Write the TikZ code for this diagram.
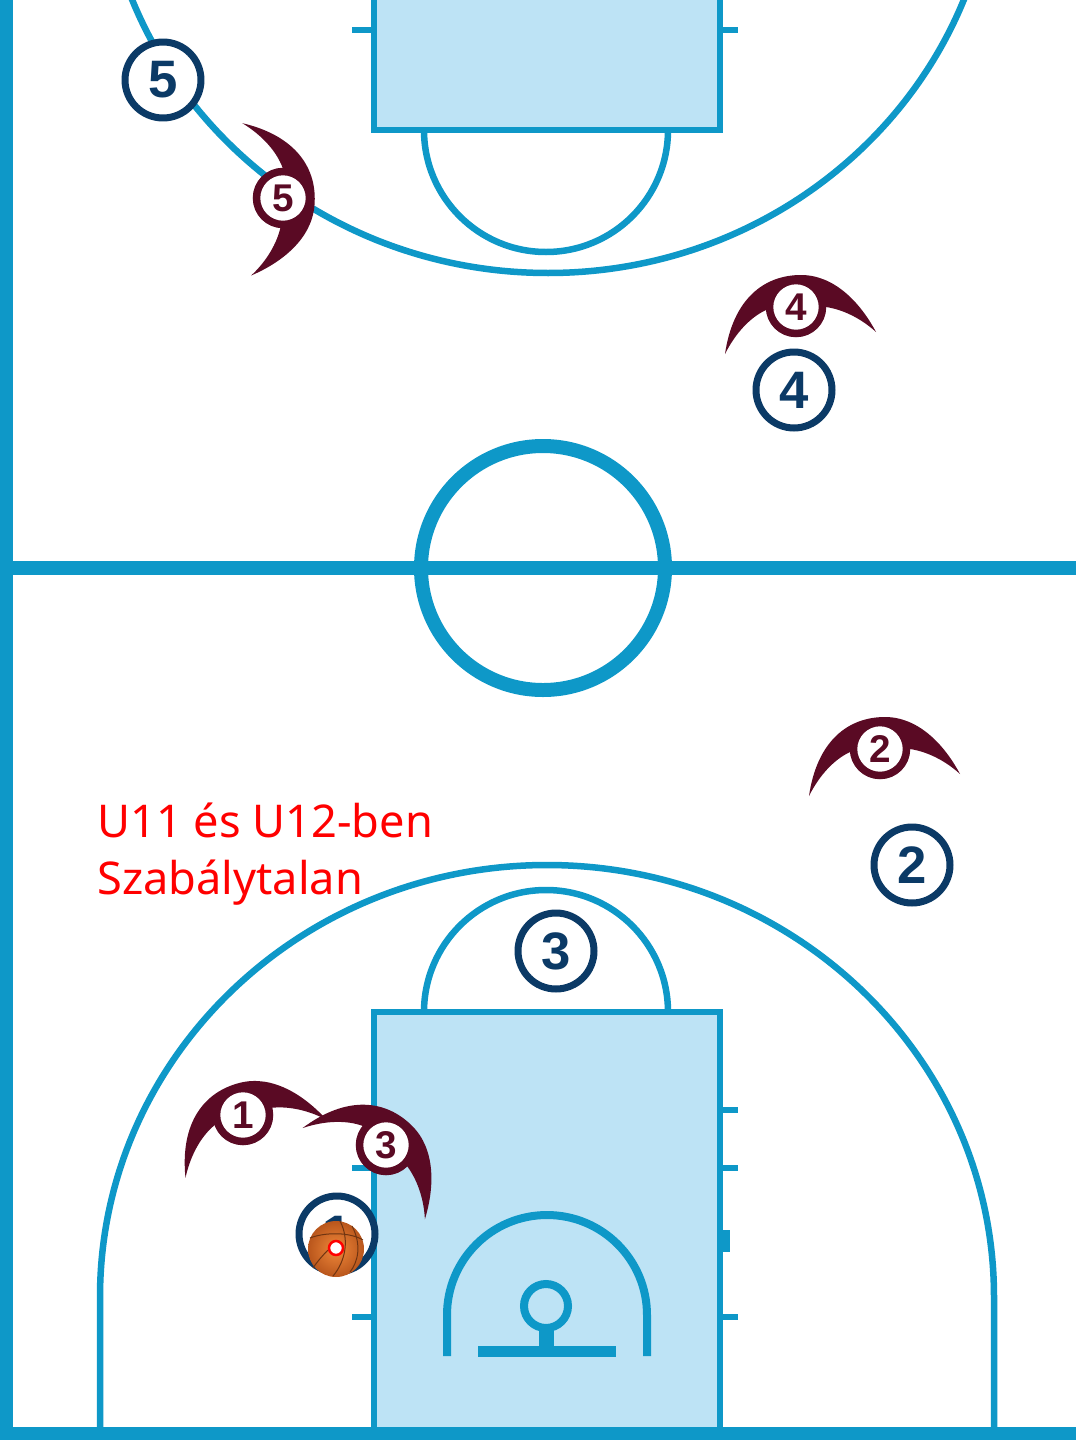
\documentclass[tikz,border=0pt]{standalone}
\usepackage{fontspec}
\setmainfont{Noto Sans}
\newfontfamily\numfont[Scale=1]{Liberation Sans}
\definecolor{courtblue}{HTML}{0E98C8}
\definecolor{keyblue}{HTML}{BDE3F5}
\definecolor{navyring}{HTML}{0B3A66}
\definecolor{maroonring}{HTML}{5A0A24}
\definecolor{ballorange}{HTML}{F0883A}
\definecolor{ballrim}{HTML}{B9561C}
\tikzset{
  courtline/.style={draw=courtblue,line width=0.13cm},
  thickline/.style={draw=courtblue,line width=0.28cm},
  attacker/.style={circle,draw=navyring,fill=white,line width=0.14cm,minimum size=1.52cm,inner sep=0pt,text=navyring,font=\numfont\bfseries\fontsize{30}{30}\selectfont},
  defender/.style={circle,draw=maroonring,fill=white,line width=0.15cm,minimum size=1.06cm,inner sep=0pt,text=maroonring,font=\numfont\bfseries\fontsize{22}{22}\selectfont},
  crescent/.style={fill=maroonring,draw=none},
  seam/.style={draw=ballrim!60!black,line width=0.02cm}
}
\begin{document}
\begin{tikzpicture}[x=0.02cm,y=-0.02cm]
  \useasboundingbox (0,0) rectangle (1076,1440);
  \clip (0,0) rectangle (1076,1440);
  \fill[white] (0,0) rectangle (1076,1440);
  \draw[courtline] (100,1430) -- (100,1297) arc[start angle=180,end angle=360,x radius=447,y radius=432] -- (994,1430);
  \draw[courtline] (548,-159) ellipse[x radius=447,y radius=432];
  \draw[courtline,fill=keyblue] (374,-20) rectangle (720,130);
  \draw[courtline,fill=keyblue] (374,1012) rectangle (720,1440);
  \draw[courtline] (424,130) arc[start angle=180,end angle=0,radius=122];
  \draw[courtline] (424,1012) arc[start angle=180,end angle=360,radius=122];
  \foreach \y in {30} {
    \draw[courtline] (352,\y) -- (374,\y);
    \draw[courtline] (720,\y) -- (738,\y);
  }
  \foreach \y in {1168,1317} \draw[courtline] (352,\y) -- (374,\y);
  \foreach \y in {1110,1168,1317} \draw[courtline] (720,\y) -- (738,\y);
  \fill[courtblue] (720,1230) rectangle (730,1252);
  \draw[draw=courtblue,line width=0.16cm] (447,1356) -- (447,1315) arc[start angle=180,end angle=360,radius=100] -- (647,1356);
  \draw[draw=courtblue,line width=0.16cm] (546,1306) circle[radius=22];
  \fill[courtblue] (539,1328) rectangle (554,1348);
  \fill[courtblue] (478,1346) rectangle (616,1357);
  \draw[thickline] (6,0) -- (6,1440);
  \draw[thickline] (0,568) -- (1076,568);
  \draw[thickline] (0,1434) -- (1076,1434);
  \draw[thickline] (543,568) circle[radius=122];
  \foreach \lab/\x/\y in {5/163/80, 4/794/390, 2/912/865, 3/556/951, 1/337/1234}
    \node[attacker] (att\lab) at (\x,\y) {\lab};
  \foreach \lab/\x/\y/\rot in {5/283/198/-95, 4/796/307/0, 2/880/749/0, 1/243/1115/14, 3/386/1145/-45} {
    \fill[crescent,shift={(\x,\y)},rotate=\rot] (-71,47) .. controls (-63,-8) and (-32,-32) .. (5,-32)
      .. controls (38,-32) and (64,-5) .. (80,25)
      .. controls (68,14) and (50,3) .. (30,0) -- (-30,3)
      .. controls (-45,10) and (-60,25) .. (-71,47) -- cycle;
    \node[defender] (def\lab) at (\x,\y) {\lab};
  }
  \node[circle,minimum size=1.12cm,inner sep=0pt,inner color=ballorange,outer color=ballrim] (ball) at (336,1249) {};
  \draw[seam] (310,1238) .. controls (325,1232) and (350,1232) .. (363,1240);
  \draw[seam] (340,1221) .. controls (350,1240) and (345,1262) .. (333,1276);
  \draw[seam] (352,1226) .. controls (362,1245) and (358,1262) .. (350,1272);
  \draw[seam] (328,1250) .. controls (320,1258) and (315,1265) .. (313,1268);
  \node[circle,draw=red,fill=white,line width=0.05cm,minimum size=0.28cm,inner sep=0pt] (valve) at (336,1248) {};
  \node[right,text=red,align=left,font=\fontsize{25.7}{32.5}\selectfont,inner sep=0pt] (note) at (97,854) {U11 és U12-ben\\Szabálytalan};
\end{tikzpicture}
\end{document}
